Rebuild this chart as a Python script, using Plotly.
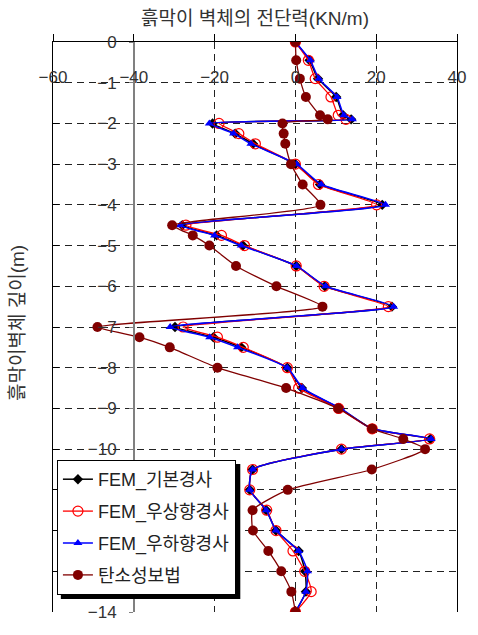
import plotly.graph_objects as go

# depth (m), negative downward
depth = [0, 0.45, 0.9, 1.35, 1.8, 1.9, 2.0, 2.25, 2.5, 3.0, 3.5, 4.0, 4.5, 4.75, 5.0,
         5.5, 6.0, 6.5, 7.0, 7.25, 7.5, 8.0, 8.5, 9.0, 9.5, 9.75, 10.0, 10.5, 11.0,
         11.5, 12.0, 12.5, 13.0, 13.5, 14.0]

fem_basic = [0, 3.5, 5.6, 10.1, 11.8, 13.8, -20.5, -14.9, -10.5, 0, 6.1, 21.5, -28.0,
             -19.5, -13.0, 0.2, 7.3, 23.9, -29.8, -20.3, -13.4, -2.0, 1.6, 11.0, 19.0,
             33.4, 11.4, -10.6, -11.3, -7.2, -4.8, 0.8, 2.4, 2.6, 0]

fem_up = [0, 3.2, 4.9, 8.8, 10.6, 12.5, -18.9, -14.0, -9.9, 0, 5.7, 20.1, -27.1,
          -18.3, -12.6, 0.2, 7.1, 23.0, -27.8, -19.3, -12.9, -2.0, 0.8, 10.7, 19.0,
          33.2, 11.4, -10.6, -11.3, -7.1, -4.8, -0.6, 2.3, 3.9, 0]

fem_down = [0, 3.7, 5.8, 10.3, 12.0, 14.1, -21.3, -15.3, -11.0, 0.3, 6.4, 22.3, -28.5,
            -20.0, -13.4, 0.3, 7.5, 24.3, -31.0, -21.2, -14.3, -2.0, 1.8, 11.2, 19.0,
            33.6, 11.4, -10.6, -11.3, -7.2, -4.8, 0.8, 3.0, 2.6, 0]

elasto = [0, 0.2, 1.1, 2.6, 6.1, 8.0, -3.2, -2.9, -2.5, -1.1, 1.8, 6.2, -30.5,
          -25.4, -21.3, -14.7, -4.7, 6.7, -49.0, -38.6, -31.1, -19.3, -2.3, 10.6, 19.0,
          26.7, 32.1, 18.9, -1.9, -10.6, -10.5, -6.7, -3.5, -1.0, 0]

names = ["FEM_기본경사", "FEM_우상향경사", "FEM_우하향경사", "탄소성보법"]
x_ticks = [-60, -40, -20, 0, 20, 40]
y_ticks = list(range(0, -15, -1))

y_vals = [-d for d in depth]
FONT = "Liberation Sans, Noto Sans CJK KR, sans-serif"

fig = go.Figure()
fig.add_trace(go.Scatter(x=fem_basic, y=y_vals, name=names[0], mode="lines+markers",
                         legendgroup="g1",
                         line=dict(color="black", width=1.5, shape="spline", smoothing=0.5),
                         marker=dict(symbol="diamond", size=8, color="black")))
fig.add_trace(go.Scatter(x=fem_up, y=y_vals, name=names[1], mode="lines+markers",
                         legendgroup="g2",
                         line=dict(color="#ff0000", width=1.3, shape="spline", smoothing=0.5),
                         marker=dict(symbol="circle-open", size=10, color="#ff0000",
                                     line=dict(width=1.2))))
fig.add_trace(go.Scatter(x=fem_down, y=y_vals, name=names[2], mode="lines+markers",
                         legendgroup="g3",
                         line=dict(color="#0000ff", width=1.5, shape="spline", smoothing=0.5),
                         marker=dict(symbol="triangle-up", size=8, color="#0000ff")))
fig.add_trace(go.Scatter(x=elasto, y=y_vals, name=names[3], mode="lines+markers",
                         legendgroup="g4",
                         line=dict(color="#800000", width=1.3, shape="spline", smoothing=0.5),
                         marker=dict(symbol="circle", size=10, color="#800000")))
# helper (empty) trace so the overlay label axes are drawn
fig.add_trace(go.Scatter(x=[None], y=[None], xaxis="x2", yaxis="y2",
                         showlegend=False, hoverinfo="skip"))

fig.update_layout(
    width=478, height=635,
    margin=dict(l=53, r=13, t=42, b=23),
    paper_bgcolor="white", plot_bgcolor="white",
    font=dict(family=FONT, size=17, color="#333333"),
    title=dict(text="흙막이 벽체의 전단력(KN/m)", x=0.5, xref="paper",
               y=1 - 18 / 635, yanchor="middle", xanchor="center",
               font=dict(size=19, color="#333333", family=FONT)),
    xaxis=dict(range=[-60, 40], tickvals=x_ticks, side="top", showline=True,
               linecolor="black", linewidth=1.2, ticks="outside", ticklen=7,
               tickcolor="black", showticklabels=False, zeroline=False,
               showgrid=True, gridcolor="#222222", gridwidth=1, griddash="7px,5px"),
    xaxis2=dict(overlaying="x", matches="x", range=[-60, 40], tickvals=x_ticks,
                anchor="free", position=(612 - 65) / 570, side="bottom",
                showline=False, ticks="", showgrid=False, zeroline=False,
                tickfont=dict(size=17, color="#333333")),
    yaxis=dict(range=[-14, 0], tickvals=y_ticks, showline=True, linecolor="black",
               linewidth=1.2, mirror=True, ticks="inside", ticklen=6, tickcolor="black",
               showticklabels=False, zeroline=False, showgrid=True,
               gridcolor="#222222", gridwidth=1, griddash="7px,5px"),
    yaxis2=dict(overlaying="y", matches="y", range=[-14, 0], tickvals=y_ticks,
                anchor="free", position=0.2, side="left", showline=True,
                linecolor="#808080", linewidth=1.5, ticks="outside", ticklen=4,
                tickcolor="#808080", showgrid=False, zeroline=False,
                ticklabelstandoff=9, tickfont=dict(size=17, color="#333333")),
    legend=dict(x=(57 - 53) / 412, y=(612 - 460) / 570, xanchor="left", yanchor="top",
                bgcolor="white", bordercolor="black", borderwidth=1,
                font=dict(size=18, color="#222222", family=FONT),
                tracegroupgap=5.5, itemwidth=30),
    showlegend=True,
)

# legend drop shadow
fig.add_shape(type="rect", xref="paper", yref="paper",
              x0=(61 - 53) / 412, x1=(244 - 53) / 412,
              y0=(612 - 599) / 570, y1=(612 - 464) / 570,
              fillcolor="black", line=dict(width=0), layer="above")

fig.add_annotation(text="흙막이벽체 깊이(m)", xref="paper", yref="paper",
                   x=0, xshift=-36, y=(612 - 323) / 570, textangle=-90,
                   showarrow=False, xanchor="center", yanchor="middle",
                   font=dict(size=19, color="#333333", family=FONT))

fig.write_html("out.html")
